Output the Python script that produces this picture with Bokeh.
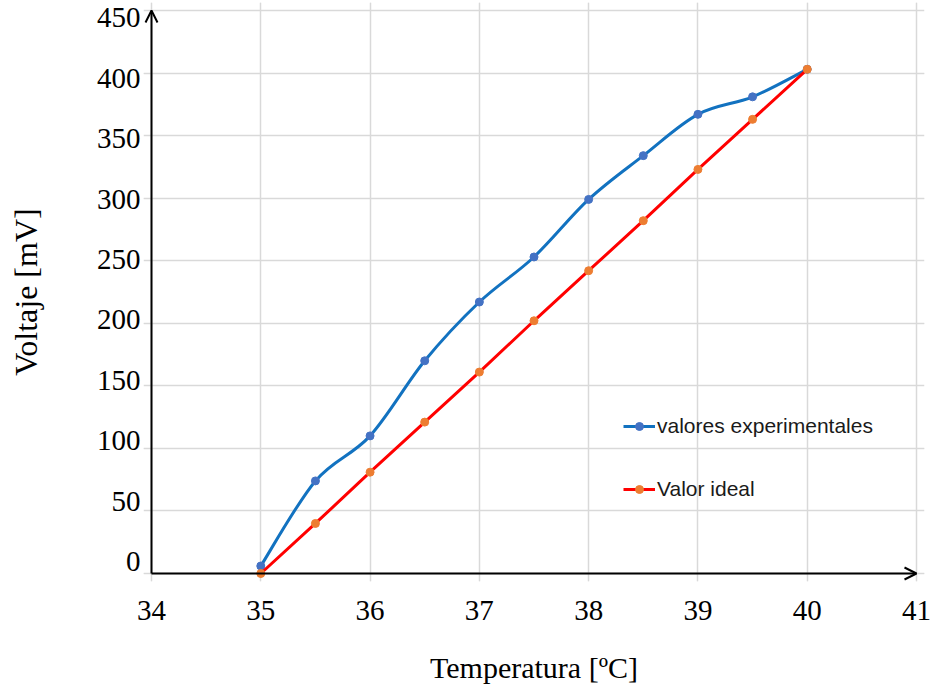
from bokeh.plotting import figure
from bokeh.models import (Range1d, LinearAxis, FixedTicker, Grid, Arrow, OpenHead,
                          Legend, LegendItem)
from bokeh.embed import file_html
from bokeh.resources import INLINE

# ---- data ----
temps = [35, 35.5, 36, 36.5, 37, 37.5, 38, 38.5, 39, 39.5, 40]
experimental = [6, 74, 110, 170, 217, 253, 299, 334, 367, 381, 403]
ideal = [0, 40, 81, 121, 161, 202, 242, 282, 323, 363, 403]
x_ticks = [34, 35, 36, 37, 38, 39, 40, 41]
y_ticks = [0, 50, 100, 150, 200, 250, 300, 350, 400, 450]

series_names = ["valores experimentales", "Valor ideal"]

# layout (pixels)
W, H = 934, 688
LEFT, RIGHT, TOP, BOTTOM = 143, 10, 2, 107
PAD = 8  # room so the axis arrows are not clipped by the frame
frame_w = W - LEFT - RIGHT
frame_h = H - TOP - BOTTOM
xs = (frame_w - 2 * PAD) / (x_ticks[-1] - x_ticks[0])
ys = (frame_h - 2 * PAD) / (y_ticks[-1] - y_ticks[0])

p = figure(width=W, height=H,
           x_range=Range1d(x_ticks[0] - PAD / xs, x_ticks[-1] + PAD / xs),
           y_range=Range1d(y_ticks[0] - PAD / ys, y_ticks[-1] + PAD / ys),
           output_backend="svg", toolbar_location=None,
           x_axis_location=None, y_axis_location=None,
           min_border_left=LEFT, min_border_right=RIGHT, min_border_top=TOP,
           min_border_bottom=BOTTOM)
p.outline_line_color = None
p.background_fill_color = "white"

# grids
p.add_layout(Grid(dimension=0, ticker=FixedTicker(ticks=x_ticks),
                  bounds=(y_ticks[0], y_ticks[-1]),
                  grid_line_color="#d9d9d9", grid_line_width=1.5))
p.add_layout(Grid(dimension=1, ticker=FixedTicker(ticks=y_ticks),
                  bounds=(x_ticks[0], x_ticks[-1]),
                  grid_line_color="#d9d9d9", grid_line_width=1.5))

# axes
serif = "Liberation Serif"
xaxis = LinearAxis(ticker=FixedTicker(ticks=x_ticks), axis_label="Temperatura [ºC]")
p.extra_y_ranges = {"labels": Range1d(-16.56, 462.83)}
yaxis = LinearAxis(y_range_name="labels", ticker=FixedTicker(ticks=y_ticks),
                   axis_label="Voltaje [mV]")
for ax in (xaxis, yaxis):
    ax.axis_line_color = None
    ax.major_tick_line_color = None
    ax.minor_tick_line_color = None
    ax.major_tick_in = 0
    ax.major_tick_out = 0
    ax.major_label_text_font = serif
    ax.major_label_text_font_size = "29px"
    ax.major_label_text_color = "black"
    ax.axis_label_text_font = serif
    ax.axis_label_text_font_style = "normal"
    ax.axis_label_text_color = "black"
xaxis.axis_label_text_font_size = "30px"
yaxis.axis_label_text_font_size = "32px"
xaxis.major_label_standoff = 19
xaxis.axis_label_standoff = 28
yaxis.major_label_standoff = 3
yaxis.axis_label_standoff = 50
p.add_layout(xaxis, "below")
p.add_layout(yaxis, "left")

# smoothed experimental curve (cubic Bezier through the data points)
n = len(temps)
bx0, by0, bx1, by1, cx0, cy0, cx1, cy1 = [], [], [], [], [], [], [], []
for i in range(n - 1):
    im = i - 1 if i > 0 else i
    ip = i + 2 if i + 2 < n else i + 1
    bx0.append(temps[i]); by0.append(experimental[i])
    bx1.append(temps[i + 1]); by1.append(experimental[i + 1])
    cx0.append(temps[i] + (temps[i + 1] - temps[im]) / 6)
    cy0.append(experimental[i] + (experimental[i + 1] - experimental[im]) / 6)
    cx1.append(temps[i + 1] - (temps[ip] - temps[i]) / 6)
    cy1.append(experimental[i + 1] - (experimental[ip] - experimental[i]) / 6)

blue_line = p.bezier(x0=bx0, y0=by0, x1=bx1, y1=by1, cx0=cx0, cy0=cy0, cx1=cx1, cy1=cy1,
                     line_color="#1272C0", line_width=3)
blue_pts = p.scatter(temps, experimental, size=8, fill_color="#4472C4",
                     line_color="#4472C4")
red_line = p.line(temps, ideal, line_color="#FF0000", line_width=3)
red_pts = p.scatter(temps, ideal, size=8, fill_color="#ED7D31", line_color="#ED7D31")

# axis arrows
p.add_layout(Arrow(end=OpenHead(size=12, line_width=2, line_color="black"),
                   x_start=x_ticks[0], y_start=y_ticks[0], x_end=x_ticks[-1], y_end=y_ticks[0],
                   line_width=2, line_color="black"))
p.add_layout(Arrow(end=OpenHead(size=12, line_width=2, line_color="black"),
                   x_start=x_ticks[0], y_start=y_ticks[0], x_end=x_ticks[0], y_end=y_ticks[-1],
                   line_width=2, line_color="black"))

legend = Legend(items=[LegendItem(label=series_names[0], renderers=[blue_line, blue_pts]),
                       LegendItem(label=series_names[1], renderers=[red_line, red_pts])],
                location=(480, 80), orientation="vertical", padding=0, margin=0,
                spacing=39, glyph_width=32, glyph_height=20, label_height=20,
                label_standoff=2, label_text_font="Liberation Sans",
                label_text_font_size="21px", label_text_color="#1a1a1a",
                border_line_color=None, background_fill_alpha=0)
p.add_layout(legend)

open("out.html", "w").write(file_html(p, INLINE))
